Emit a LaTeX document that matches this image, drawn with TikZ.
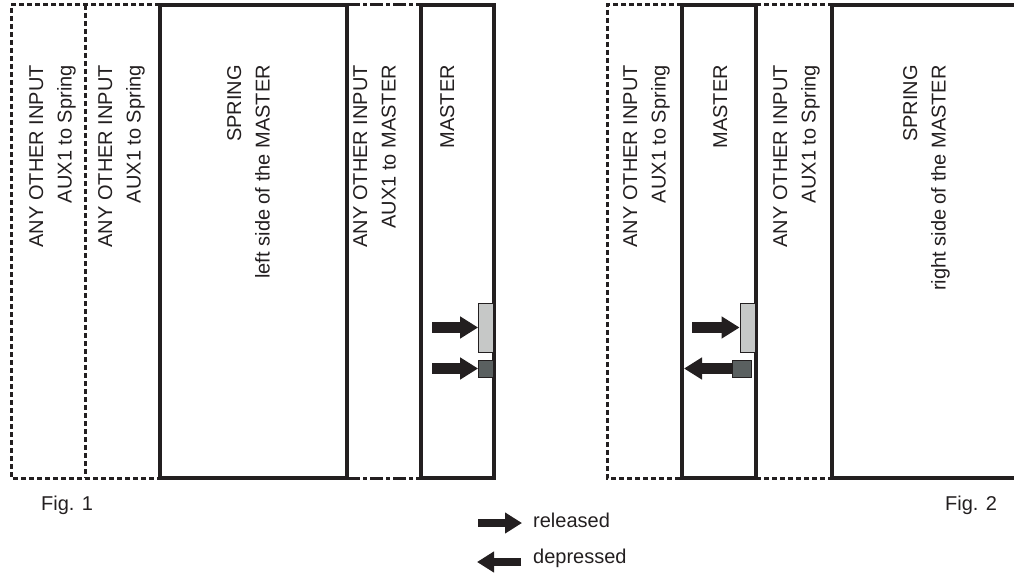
\documentclass[tikz,border=0pt]{standalone}
\usepackage{fontspec}
\setmainfont{Liberation Sans}
\usepackage{xcolor}
\usetikzlibrary{arrows.meta}

\definecolor{ink}{HTML}{231F20}
\definecolor{keylight}{HTML}{C6C8C7}
\definecolor{keydark}{HTML}{5A6060}

\begin{document}
\begin{tikzpicture}[
    x=1pt, y=-1pt,
    frame/.style={draw=ink, line width=3.2pt},
    dashframe/.style={draw=ink, line width=3pt, dash pattern=on 5pt off 3pt},
    dashdotframe/.style={draw=ink, line width=3pt, dash pattern=on 13pt off 3pt on 4pt off 3pt},
    lbl/.style={rotate=90, anchor=north east, align=right, inner sep=0pt,
                text=ink, font=\fontsize{20}{28.5}\selectfont},
    figlbl/.style={anchor=base west, inner sep=0pt, text=ink,
                   font=\fontsize{20}{24}\selectfont},
    keylit/.style={fill=keylight, draw=ink, line width=0.8pt, inner sep=0pt,
                   minimum width=15pt, minimum height=49pt},
    keydrk/.style={fill=keydark, draw=ink, line width=0.8pt, inner sep=0pt,
                   minimum width=15pt, minimum height=17pt},
    arr/.style={draw=ink, line width=11pt,
                -{Triangle[length=18pt 0 0, width=21pt 0 0]}},
    legarr/.style={draw=ink, line width=8pt,
                   -{Triangle[length=17pt 0 0, width=20pt 0 0]}}
]
\useasboundingbox (0,0) rectangle (1014,575);

% Fig. 1
\draw[dashframe] (160,5) -- (11,5) -- (11,478) -- (160,478);
\draw[dashframe] (85,5) -- (85,478);
\draw[dashdotframe] (347,5) -- (421,5);
\draw[dashdotframe] (347,478) -- (421,478);
\draw[frame] (160,5) rectangle (347,478);
\draw[frame] (421,5) rectangle (494,478);

\node[lbl] (auxA) at (29,65) {ANY OTHER INPUT\\AUX1 to Spring};
\node[lbl] (auxB) at (98,65) {ANY OTHER INPUT\\AUX1 to Spring};
\node[lbl] (springL) at (227,65) {SPRING\\left side of the MASTER};
\node[lbl] (auxC) at (353,65) {ANY OTHER INPUT\\AUX1 to MASTER};
\node[lbl] (masterL) at (440,65) {MASTER};

\node[keylit] (litL) at (486,327.5) {};
\node[keydrk] (drkL) at (486,368.5) {};
\coordinate (litLin) at (432,327.5);
\coordinate (drkLin) at (432,368.5);
\draw[arr] (litLin) -- (litL);
\draw[arr] (drkLin) -- (drkL);

\node[figlbl] (fig1) at (41,510) {Fig. 1};

% Fig. 2
\draw[dashframe] (682,5) -- (607,5) -- (607,478) -- (682,478);
\draw[dashframe] (756,5) -- (832,5);
\draw[dashframe] (756,478) -- (832,478);
\draw[frame] (682,5) rectangle (756,478);
\draw[frame] (1016,5) -- (832,5) -- (832,478) -- (1016,478);

\node[lbl] (auxD) at (623,65) {ANY OTHER INPUT\\AUX1 to Spring};
\node[lbl] (masterR) at (713,65) {MASTER};
\node[lbl] (auxE) at (773,65) {ANY OTHER INPUT\\AUX1 to Spring};
\node[lbl] (springR) at (903,65) {SPRING\\right side of the MASTER};

\node[keylit] (litR) at (747.5,327.5) {};
\node[keydrk, minimum width=19pt] (drkR) at (741.5,368.5) {};
\coordinate (litRin) at (692,327.5);
\coordinate (drkRout) at (684,368.5);
\draw[arr] (litRin) -- (litR);
\draw[arr] (drkR) -- (drkRout);

\node[figlbl] (fig2) at (945,510) {Fig. 2};

% legend
\coordinate (relA) at (478,523);
\coordinate (relB) at (522,523);
\coordinate (depA) at (521,562);
\coordinate (depB) at (477,562);
\draw[legarr] (relA) -- (relB);
\draw[legarr] (depA) -- (depB);
\node[figlbl] (released) at (533,527) {released};
\node[figlbl] (depressed) at (533,563) {depressed};
\end{tikzpicture}
\end{document}
